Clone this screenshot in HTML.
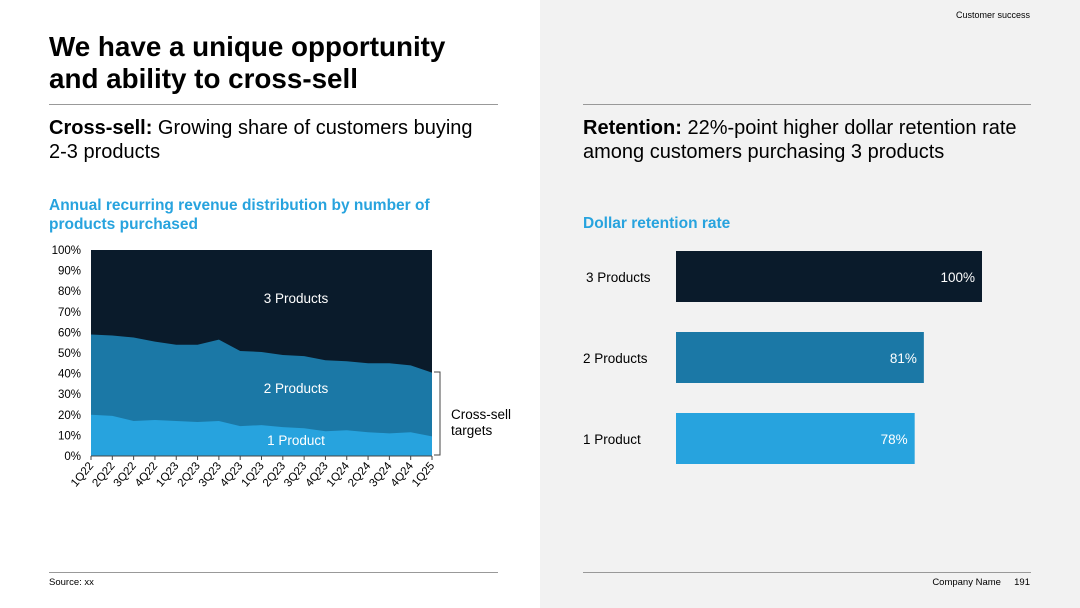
<!DOCTYPE html>
<html><head><meta charset="utf-8"><style>
body{margin:0;width:1080px;height:608px;overflow:hidden;background:#fff;font-family:"Liberation Sans",Arial,sans-serif;}
#right{position:absolute;left:540px;top:0;width:540px;height:608px;background:#f2f2f2;}
.t{position:absolute;color:#000;white-space:nowrap;}
</style></head><body>
<div id="right"></div>
<div class="t" style="left:956px;top:10px;font-size:9px;">Customer success</div>
<div class="t" style="left:49px;top:31px;font-size:27.8px;font-weight:bold;line-height:32px;">We have a unique opportunity<br>and ability to cross-sell</div>
<div style="position:absolute;left:49px;top:104px;width:449px;height:1px;background:#999"></div>
<div style="position:absolute;left:583px;top:104px;width:448px;height:1px;background:#999"></div>
<div class="t" style="left:49px;top:116px;font-size:20px;line-height:24px;"><b>Cross-sell:</b> Growing share of customers buying<br>2-3 products</div>
<div class="t" style="left:583px;top:116px;font-size:20px;line-height:24px;"><b>Retention:</b> 22%-point higher dollar retention rate<br>among customers purchasing 3 products</div>
<div class="t" style="left:49px;top:196px;font-size:15.5px;line-height:19px;font-weight:bold;color:#27a3de;">Annual recurring revenue distribution by number of<br>products purchased</div>
<div class="t" style="left:583px;top:215px;font-size:15.5px;font-weight:bold;color:#27a3de;">Dollar retention rate</div>
<div style="position:absolute;left:49px;top:572px;width:449px;height:1px;background:#999"></div>
<div style="position:absolute;left:583px;top:572px;width:448px;height:1px;background:#999"></div>
<div class="t" style="left:49px;top:577px;font-size:9.5px;">Source: xx</div>
<div class="t" style="right:50px;top:577px;font-size:9.5px;">Company Name &nbsp;&nbsp;&nbsp; 191</div>
<svg id="area" width="540" height="500" style="position:absolute;left:0;top:0"></svg>
<svg id="bars" width="540" height="500" style="position:absolute;left:540px;top:0"></svg>
<script>
const quarters=["1Q22","2Q22","3Q22","4Q22","1Q23","2Q23","3Q23","4Q23","1Q23","2Q23","3Q23","4Q23","1Q24","2Q24","3Q24","4Q24","1Q25"];
const oneProduct=[20,19.5,17,17.5,17,16.5,17,14.5,15,14,13.5,12,12.5,11.5,11,11.5,9.5];
const twoProducts=[39,39,40.5,38,37,37.5,39.5,36.5,35.5,35,35,34.5,33.5,33.5,34,32.5,31];
const yTicks=[0,10,20,30,40,50,60,70,80,90,100];
const barCats=["3 Products","2 Products","1 Product"];
const barVals=[100,81,78];
const barLabels=["100%","81%","78%"];
const NS="http://www.w3.org/2000/svg";
function mk(p,t,a){const e=document.createElementNS(NS,t);for(const k in a)e.setAttribute(k,a[k]);p.appendChild(e);return e;}
const A=document.getElementById('area');
const x0=91,x1=432,y0=456,y1=250;
const X=i=>x0+i*(x1-x0)/(quarters.length-1);
const Y=v=>y0-v*(y0-y1)/100;
const cum1=oneProduct, cum2=oneProduct.map((v,i)=>v+twoProducts[i]);
function poly(top,bot){let d='';top.forEach((v,i)=>d+=(i?'L':'M')+X(i)+','+Y(v));for(let i=bot.length-1;i>=0;i--)d+='L'+X(i)+','+Y(bot[i]);return d+'Z';}
let e;
e=mk(A,'rect',{x:x0,y:y1,width:x1-x0,height:y0-y1,fill:'#0a1b2b'});

e=mk(A,'path',{d:poly(cum2,quarters.map(()=>0)),fill:'#1b78a6'});

e=mk(A,'path',{d:poly(cum1,quarters.map(()=>0)),fill:'#27a3de'});

mk(A,'line',{x1:x0,x2:x1,y1:y0,y2:y0,stroke:'#444','stroke-width':1});
yTicks.forEach(v=>{e=mk(A,'text',{x:81,y:Y(v)+4,'font-size':11.5,'text-anchor':'end',fill:'#000'});e.textContent=v+'%';
});
quarters.forEach((q,i)=>{mk(A,'line',{x1:X(i),x2:X(i),y1:y0,y2:y0+4,stroke:'#444'});
e=mk(A,'text',{x:X(i)+3,y:y0+10,'font-size':11.5,'text-anchor':'end',transform:`rotate(-50 ${X(i)+3} ${y0+10})`});e.textContent=q;
});
[["3 Products",303],["2 Products",393],["1 Product",445]].forEach(([t,y])=>{e=mk(A,'text',{x:296,y:y,'font-size':13.5,'text-anchor':'middle',fill:'#fff'});e.textContent=t;
});
e=mk(A,'path',{d:`M434,372 H440 V455 H434`,fill:'none',stroke:'#444'});

e=mk(A,'text',{x:451,y:419,'font-size':13.5});e.innerHTML='<tspan x="451">Cross-sell</tspan><tspan x="451" dy="16">targets</tspan>';

const B=document.getElementById('bars');
const bx=136,bw=306,bh=51;
const colors=['#0a1b2b','#1b78a6','#27a3de'];
const labX=[46,43,43];
barCats.forEach((c,i)=>{const y=251+i*81;const w=barVals[i]/100*bw;
e=mk(B,'rect',{x:bx,y:y,width:w,height:bh,fill:colors[i]});

e=mk(B,'text',{x:bx+w-7,y:y+31,'font-size':13.5,'text-anchor':'end',fill:'#fff'});e.textContent=barLabels[i];

e=mk(B,'text',{x:labX[i],y:y+31,'font-size':13.5});e.textContent=c;
});
</script>
</body></html>
